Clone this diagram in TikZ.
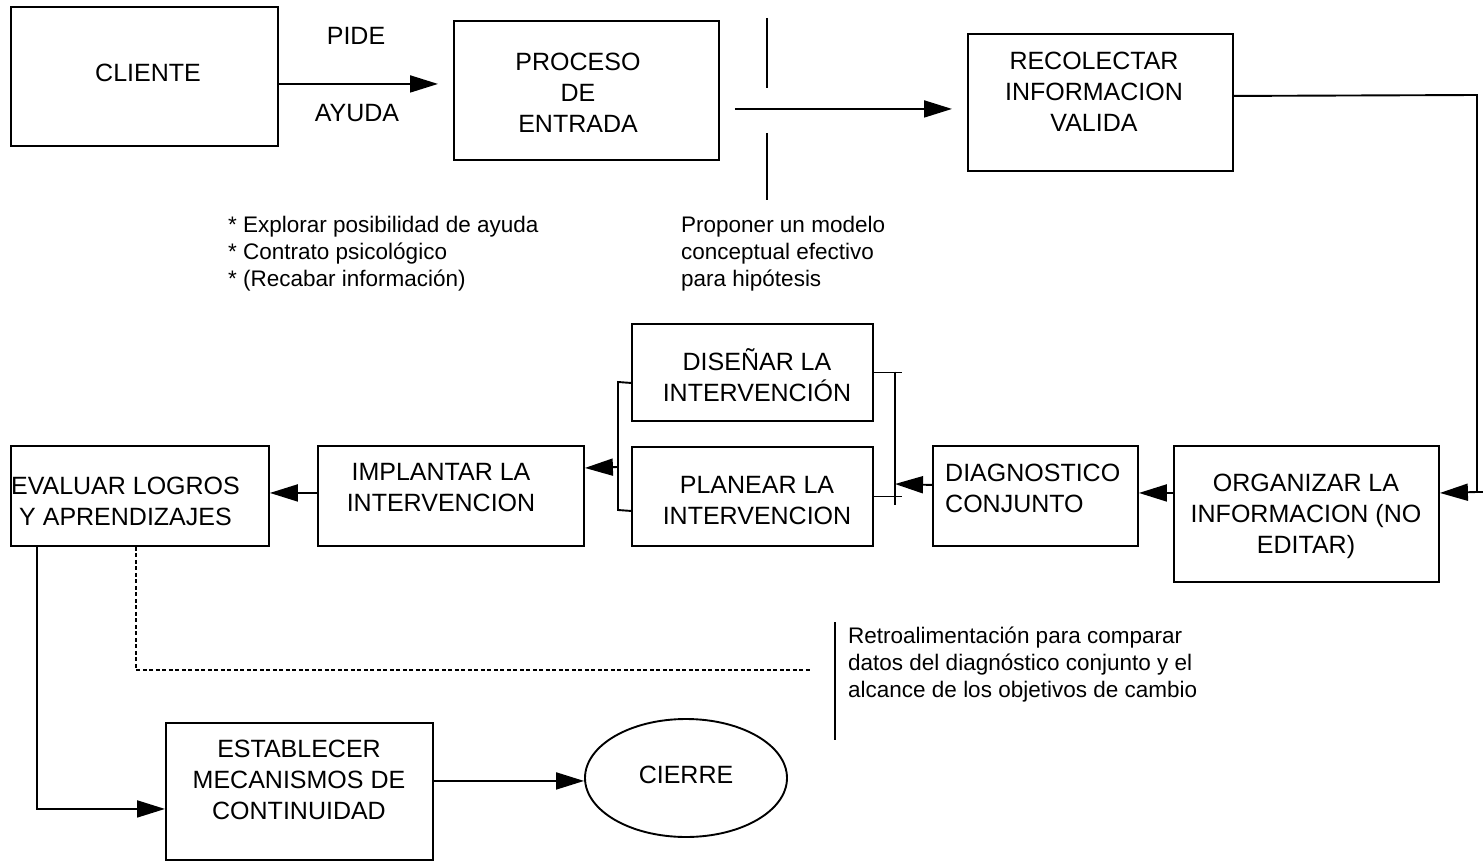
\documentclass[tikz,border=0pt]{standalone}
\usepackage{fontspec}
\setmainfont{Liberation Sans}
\usetikzlibrary{arrows.meta,shapes.geometric,calc}
\begin{document}
\begin{tikzpicture}[x=1pt,y=-1pt,
  box/.style={draw,line width=1.9pt,inner sep=0pt,anchor=north west},
  bt/.style={font=\fontsize{25}{31}\selectfont,align=center,inner sep=0pt},
  st/.style={font=\fontsize{22.5}{27}\selectfont,align=left,inner sep=0pt,anchor=west},
  ln/.style={line width=1.9pt},
  arr/.style={line width=1.9pt,-{Triangle[length=28pt,width=17pt]}},
  dsh/.style={line width=1.8pt,dash pattern=on 4pt off 2.5pt}
]
\useasboundingbox (0,0) rectangle (1483,861);
% boxes
\node[box,minimum width=267pt,minimum height=139pt] (cli) at (10,6) {};
\node[bt] at (148,73) {CLIENTE};
\node[box,minimum width=265pt,minimum height=139pt] (pro) at (453,20) {};
\node[bt] at (578,93) {PROCESO\\DE\\ENTRADA};
\node[box,minimum width=265pt,minimum height=137pt] (rec) at (967,33) {};
\node[bt] at (1094,92) {RECOLECTAR\\INFORMACION\\VALIDA};
\node[box,minimum width=241pt,minimum height=97pt] (dis) at (631,323) {};
\node[bt] at (757,375) {DISEÑAR LA\\INTERVENCIÓN};
\node[box,minimum width=241pt,minimum height=99pt] (pla) at (631,446) {};
\node[bt] at (757,501) {PLANEAR LA\\INTERVENCION};
\node[box,minimum width=205pt,minimum height=100pt] (dia) at (932,445) {};
\node[bt,align=left,anchor=west] at (945,488) {DIAGNOSTICO\\CONJUNTO};
\node[box,minimum width=265pt,minimum height=136pt] (org) at (1173,445) {};
\node[bt] at (1306,516) {ORGANIZAR LA\\INFORMACION (NO\\EDITAR)};
\node[box,minimum width=266pt,minimum height=100pt] (imp) at (317,445) {};
\node[bt] at (441,488) {IMPLANTAR LA\\INTERVENCION};
\node[box,minimum width=258pt,minimum height=100pt] (eva) at (10,445) {};
\node[bt] at (125.5,501) {EVALUAR LOGROS\\Y APRENDIZAJES};
\node[box,minimum width=267pt,minimum height=137pt] (est) at (165,722) {};
\node[bt] at (299,780) {ESTABLECER\\MECANISMOS DE\\CONTINUIDAD};
\node[draw,line width=1.9pt,ellipse,minimum width=202pt,minimum height=118pt,inner sep=0pt] (cie) at (686,778) {};
\node[bt] at (686,775) {CIERRE};
% labels
\node[bt] (pide) at (356,36) {PIDE};
\node[bt] (ayuda) at (357,113) {AYUDA};
\node[st] (expl) at (228,254) {* Explorar posibilidad de ayuda\\* Contrato psicológico\\* (Recabar información)};
\node[st] (prop) at (681,254) {Proponer un modelo\\conceptual efectivo\\para hipótesis};
\node[st] (retro) at (848,665) {Retroalimentación para comparar\\datos del diagnóstico conjunto y el\\alcance de los objetivos de cambio};
% coordinates
\coordinate (rbr) at (895,484);
\coordinate (lbr) at (618,467);
\coordinate (fb) at (812,670);
% connectors
\draw[arr,shorten >=15pt] ([yshift=-7.5pt]cli.east) -- ([yshift=-7.5pt]cli.east -| pro.west);
\draw[ln] (767,18) -- (767,88);
\draw[ln] (767,133) -- (767,200);
\draw[arr,shorten <=15pt,shorten >=15pt] ([yshift=-18.5pt]pro.east) -- ([yshift=-18.5pt]pro.east -| rec.west);
\draw[arr] ([yshift=6.5pt]rec.east) -- (1477,95) -- (1477,492) -- ([yshift=21pt]org.east);
\draw[ln] (1477,492) -- (1483,492);
\draw[arr] ([yshift=21pt]org.west) -- ([yshift=3pt]dia.east);
\draw[ln] (dis.east) -- ++(28,0);
\draw[ln] (pla.east) -- ++(28,0);
\draw[ln] (895,371.5) -- (895,505);
\draw[arr] ([yshift=11pt]dia.west) -- (rbr);
\draw[ln] ([yshift=-10.5pt]dis.west) -- (618,382) -- (618,510) -- ([yshift=-14.5pt]pla.west);
\draw[arr] (lbr) -- ([yshift=28pt]imp.east);
\draw[arr] ([yshift=3pt]imp.west) -- ([yshift=3pt]eva.east);
\draw[arr] ([xshift=-103pt]eva.south) |- ([yshift=-17.5pt]est.west);
\draw[dsh] ([xshift=-4pt]eva.south) |- (fb);
\draw[ln] (835,622) -- (835,740);
\draw[arr] ([yshift=10.5pt]est.east) -- ([yshift=10.5pt]est.east -| cie.west);
\end{tikzpicture}
\end{document}
